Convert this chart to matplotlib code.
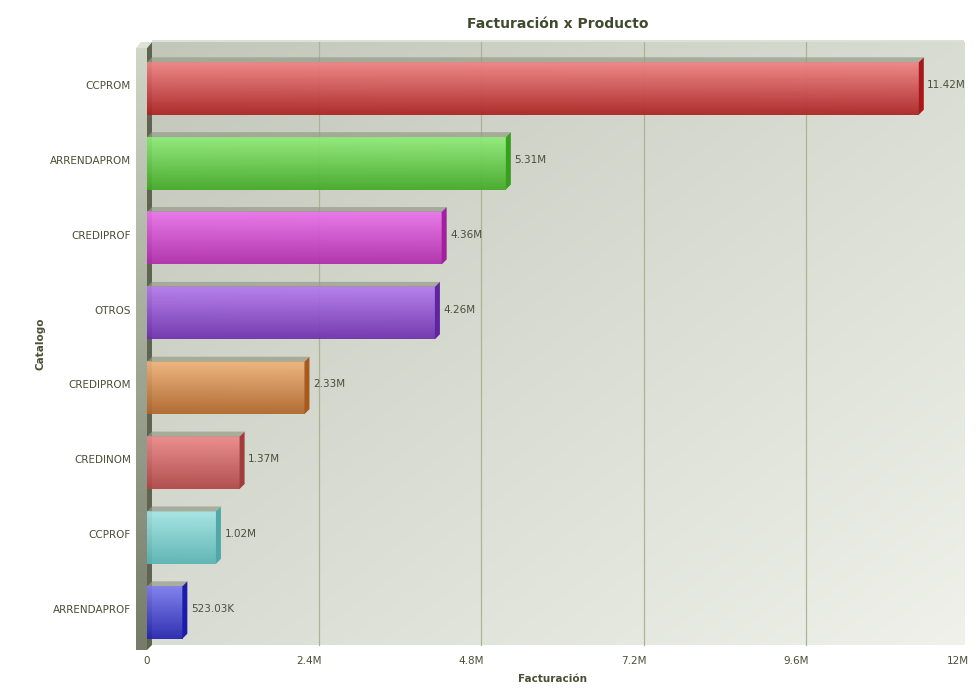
import numpy as np
import matplotlib
matplotlib.use("Agg")
import matplotlib.pyplot as plt
import matplotlib.transforms as mtransforms
from matplotlib.patches import Polygon, Rectangle

categories = ["CCPROM", "ARRENDAPROM", "CREDIPROF", "OTROS", "CREDIPROM", "CREDINOM", "CCPROF", "ARRENDAPROF"]
values = [11.42e6, 5.31e6, 4.36e6, 4.26e6, 2.33e6, 1.37e6, 1.02e6, 523.03e3]
value_labels = ["11.42M", "5.31M", "4.36M", "4.26M", "2.33M", "1.37M", "1.02M", "523.03K"]
xticks = [0, 2.4e6, 4.8e6, 7.2e6, 9.6e6, 12e6]
xtick_labels = ["0", "2.4M", "4.8M", "7.2M", "9.6M", "12M"]
top_colors = ["#f08484", "#90ec78", "#ec74ec", "#b67cf0", "#f0b47c", "#ec8a8a", "#a4e6e6", "#7c7cf0"]
bot_colors = ["#ac2222", "#42aa26", "#b02cac", "#6e30ae", "#b0662a", "#b04646", "#5ab4b4", "#2424ae"]
side_colors = ["#a81818", "#38a020", "#a020a0", "#60249e", "#a85a1e", "#a03c3c", "#50a8a8", "#1c1ca8"]

def hex2rgb(h):
    h = h.lstrip("#")
    return np.array([int(h[i:i + 2], 16) / 255 for i in (0, 2, 4)])

W, H = 980, 700
fig = plt.figure(figsize=(9.8, 7), dpi=100, facecolor="white")
axw = 811 / W
axh = 603 / H
ax = fig.add_axes([147 / W, 55 / H, axw, axh])
px = 1 / 811
py = 1 / 603

# background gradient (diagonal), extends a little to the right (3D back wall)
n = 200
gx, gy = np.meshgrid(np.linspace(0, 1, n), np.linspace(0, 1, n))
t = np.clip((gx + gy) / 2, 0, 1)
c0 = np.array([194, 199, 186]) / 255
c1 = np.array([239, 241, 234]) / 255
bg = c0[None, None, :] * (1 - t[..., None]) + c1[None, None, :] * t[..., None]
ax.imshow(bg, extent=[0, 1 + 6 * px, 0, 1], transform=ax.transAxes, aspect="auto", zorder=0,
          origin="upper", clip_on=False)

xmax = 12e6
ax.set_xlim(0, xmax)
ylo, yhi = 7.434, -0.621
h = 0.70
dx = 5 / 811 * xmax
dy = 5 / 74.86
lab_off = 3.5 / 74.86

grid_tr = mtransforms.offset_copy(ax.get_xaxis_transform(), fig=fig, x=10, y=0, units="dots")
for xv in xticks[1:-1]:
    ax.plot([xv, xv], [0, 1], transform=grid_tr, color="#aab596", lw=0.9, zorder=1, clip_on=False)

for i, (v, lab) in enumerate(zip(values, value_labels)):
    top = i - h / 2
    bot = i + h / 2
    ct = hex2rgb(top_colors[i]); cb = hex2rgb(bot_colors[i])
    s = np.linspace(0, 1, 60)[:, None]
    grad = ct[None, :] * (1 - s) + cb[None, :] * s
    img = grad[:, None, :]
    ax.imshow(img, extent=(0, v, bot, top), aspect="auto", origin="upper", zorder=3,
              interpolation="bilinear", alpha=0.93)
    # top face (soft shadow)
    ax.add_patch(Polygon([(0, top), (v, top), (v + dx, top - dy), (dx, top - dy)], closed=True,
                         facecolor="#959b88", alpha=0.7, edgecolor="none", zorder=3))
    # side face
    ax.add_patch(Polygon([(v, top), (v + dx, top - dy), (v + dx, bot - dy), (v, bot)], closed=True,
                         facecolor=side_colors[i], edgecolor="none", zorder=3))
    ax.text(v + dx + 0.05e6, i - lab_off, lab, va="center", ha="left", fontsize=7.5, color="#4a4f3c", zorder=4)

ax.set_ylim(ylo, yhi)

# left 3D wall decorations (axes coords)
wg = np.linspace(0, 1, 100)[:, None]
wc0 = np.array([208, 214, 198]) / 255
wc1 = np.array([118, 124, 104]) / 255
wimg = (wc0[None, :] * (1 - wg) + wc1[None, :] * wg)[:, None, :]
ax.imshow(wimg, extent=[-11 * px, 0, -5 * py, 1 - 6 * py], transform=ax.transAxes, aspect="auto",
          origin="upper", zorder=2, clip_on=False)
ax.add_patch(Polygon([(0, -5 * py), (5 * px, 0), (5 * px, 1), (0, 1 - 6 * py)], closed=True,
                     facecolor="#5e6450", edgecolor="none", transform=ax.transAxes, clip_on=False, zorder=2))
ax.add_patch(Polygon([(-11 * px, 1 - 6 * py), (0, 1 - 6 * py), (5 * px, 1), (-6 * px, 1)], closed=True,
                     facecolor="#dfe3d6", edgecolor="none", transform=ax.transAxes, clip_on=False, zorder=2))
ax.add_patch(Rectangle((5 * px, 1), 1 + 1 * px, 2 * py, facecolor="#dde1d4", edgecolor="none",
                       transform=ax.transAxes, clip_on=False, zorder=2))

for sp in ax.spines.values():
    sp.set_visible(False)

ax.set_yticks([i - lab_off for i in range(len(categories))])
ax.set_yticklabels(categories)
ax.set_xticks(xticks)
ax.set_xticklabels(xtick_labels)
ax.tick_params(axis="y", length=0, pad=11.5, labelsize=7.5, labelcolor="#4a4f36")
ax.tick_params(axis="x", length=0, pad=8, labelsize=7.5, labelcolor="#4a4f36")

ax.set_xlabel("Facturación", fontsize=7.5, fontweight="bold", color="#4a4f36", labelpad=6)
ax.set_ylabel("Catalogo", fontsize=7.5, fontweight="bold", color="#4a4f36", labelpad=3)
fig.text(558 / W, 1 - 24 / H, "Facturación x Producto", ha="center", va="center",
         fontsize=10, fontweight="bold", color="#414a2e")

fig.savefig("out.png", dpi=100, facecolor="white")
